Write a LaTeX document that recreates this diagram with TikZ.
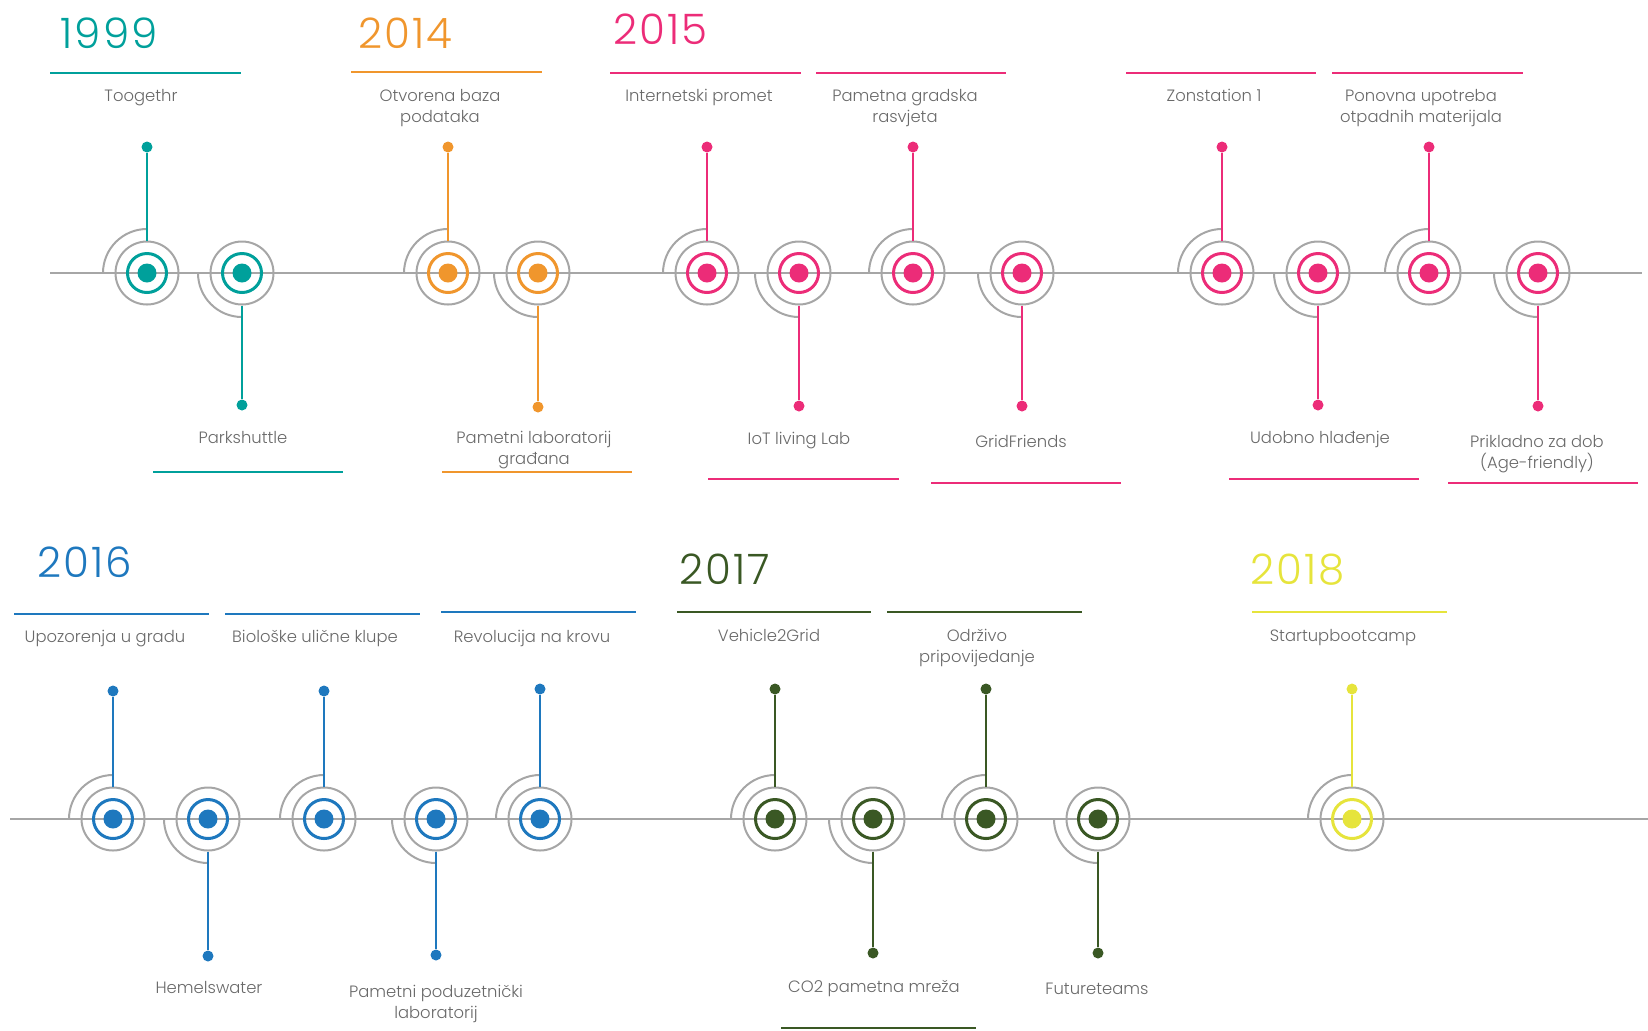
\documentclass[tikz,border=0pt]{standalone}
\usepackage{fontspec}
\setmainfont{Poppins Light}
\newfontfamily\yearfont[LetterSpace=5]{Poppins Light}
\definecolor{cteal}{RGB}{0,160,155}
\definecolor{corange}{RGB}{240,150,45}
\definecolor{cpink}{RGB}{236,44,120}
\definecolor{cblue}{RGB}{30,120,190}
\definecolor{cgreen}{RGB}{58,88,36}
\definecolor{cyellow}{RGB}{230,228,60}
\definecolor{lgrey}{RGB}{166,166,166}
\definecolor{txtgrey}{RGB}{105,105,105}
\newcommand\evup[5]{%
  \draw[greyline] (#2,#3) ++(-22pt,0pt) arc[start angle=180,end angle=90,radius=22pt];
  \node[grc] (#1) at (#2,#3) {};
  \node[tipdot=#4] (#1t) at (#2,#5) {};
  \draw[stem=#4] (#1t) -- (#1.north);
  \node[ring=#4] (#1r) at (#2,#3) {};
  \node[core=#4] (#1k) at (#2,#3) {};
}
\newcommand\evdown[5]{%
  \draw[greyline] (#2,#3) ++(-22pt,0pt) arc[start angle=180,end angle=270,radius=22pt];
  \node[grc] (#1) at (#2,#3) {};
  \node[tipdot=#4] (#1t) at (#2,#5) {};
  \draw[stem=#4] (#1.south) -- (#1t);
  \node[ring=#4] (#1r) at (#2,#3) {};
  \node[core=#4] (#1k) at (#2,#3) {};
}
\begin{document}
\begin{tikzpicture}[x=0.5pt,y=-0.5pt,
  greyline/.style={draw=lgrey, line width=1pt},
  grc/.style={circle, draw=lgrey, line width=1pt, minimum size=31.5pt, inner sep=0pt},
  ring/.style={circle, draw=#1, line width=1.5pt, minimum size=19.5pt, inner sep=0pt},
  core/.style={circle, fill=#1, minimum size=9.5pt, inner sep=0pt},
  tipdot/.style={circle, fill=#1, minimum size=5.5pt, inner sep=0pt},
  stem/.style={draw=#1, line width=1pt},
  hdr/.style={draw=#1, line width=1.25pt},
  lbl/.style={text=txtgrey, font=\fontsize{8.2pt}{10.5pt}\selectfont, align=center, anchor=base, inner sep=0pt},
  yr/.style={text=#1, font=\yearfont\fontsize{21pt}{24pt}\selectfont, anchor=base west, inner sep=0pt}]
\useasboundingbox (0,0) rectangle (1648,1030);

% timelines
\coordinate (L1s) at (50,273);
\coordinate (L1e) at (1642,273);
\coordinate (L2s) at (10,819);
\coordinate (L2e) at (1648,819);
\draw[greyline] (L1s) -- (L1e);
\draw[greyline] (L2s) -- (L2e);

% ---------- row 1 ----------
\node[yr=cteal] (y1999) at (60,48) {1999};
\node[yr=corange] (y2014) at (358,48) {2014};
\node[yr=cpink] (y2015) at (613,44) {2015};

\draw[hdr=cteal] (50,73) -- (241,73);
\node[lbl] (l1) at (141,101) {Toogethr};
\draw[hdr=corange] (351,72) -- (542,72);
\node[lbl] (l3) at (440,122) {Otvorena baza\\podataka};
\draw[hdr=cpink] (610,73) -- (801,73);
\node[lbl] (l5) at (699,101) {Internetski promet};
\draw[hdr=cpink] (816,73) -- (1006,73);
\node[lbl] (l7) at (905,122) {Pametna gradska\\rasvjeta};
\draw[hdr=cpink] (1126,73) -- (1316,73);
\node[lbl] (l9) at (1214,101) {Zonstation 1};
\draw[hdr=cpink] (1332,73) -- (1523,73);
\node[lbl] (l11) at (1421,122) {Ponovna upotreba\\otpadnih materijala};

\node[lbl] (l2) at (243,443) {Parkshuttle};
\draw[hdr=cteal] (153,472) -- (343,472);
\node[lbl] (l4) at (534,464) {Pametni laboratorij\\građana};
\draw[hdr=corange] (442,472) -- (632,472);
\node[lbl] (l6) at (799,444) {IoT living Lab};
\draw[hdr=cpink] (708,479) -- (899,479);
\node[lbl] (l8) at (1021,447) {GridFriends};
\draw[hdr=cpink] (931,483) -- (1121,483);
\node[lbl] (l10) at (1320,443) {Udobno hlađenje};
\draw[hdr=cpink] (1229,479) -- (1419,479);
\node[lbl] (l12) at (1537,468) {Prikladno za dob\\(Age-friendly)};
\draw[hdr=cpink] (1448,483) -- (1638,483);

\evup{T1}{147}{273}{cteal}{147}
\evdown{T2}{242}{273}{cteal}{405}
\evup{O1}{448}{273}{corange}{147}
\evdown{O2}{538}{273}{corange}{407}
\evup{P1}{707}{273}{cpink}{147}
\evdown{P2}{799}{273}{cpink}{406}
\evup{P3}{913}{273}{cpink}{147}
\evdown{P4}{1022}{273}{cpink}{406}
\evup{P5}{1222}{273}{cpink}{147}
\evdown{P6}{1318}{273}{cpink}{405}
\evup{P7}{1429}{273}{cpink}{147}
\evdown{P8}{1538}{273}{cpink}{406}

% ---------- row 2 ----------
\node[yr=cblue] (y2016) at (37,577) {2016};
\node[yr=cgreen] (y2017) at (679,584) {2017};
\node[yr=cyellow] (y2018) at (1250,584) {2018};

\draw[hdr=cblue] (14,614) -- (209,614);
\node[lbl] (m1) at (105,642) {Upozorenja u gradu};
\draw[hdr=cblue] (225,614) -- (420,614);
\node[lbl] (m3) at (315,642) {Biološke ulične klupe};
\draw[hdr=cblue] (441,612) -- (636,612);
\node[lbl] (m5) at (532,642) {Revolucija na krovu};
\draw[hdr=cgreen] (677,612) -- (871,612);
\node[lbl] (m6) at (769,641) {Vehicle2Grid};
\draw[hdr=cgreen] (887,612) -- (1082,612);
\node[lbl] (m8) at (977,662) {Održivo\\pripovijedanje};
\draw[hdr=cyellow] (1252,612) -- (1447,612);
\node[lbl] (m10) at (1343,641) {Startupbootcamp};

\node[lbl] (m2) at (209,993) {Hemelswater};
\node[lbl] (m4) at (436,1018) {Pametni poduzetnički\\laboratorij};
\node[lbl] (m7) at (874,992) {CO2 pametna mreža};
\draw[hdr=cgreen] (781,1028) -- (976,1028);
\node[lbl] (m9) at (1097,994) {Futureteams};

\evup{B1}{113}{819}{cblue}{691}
\evdown{B2}{208}{819}{cblue}{956}
\evup{B3}{324}{819}{cblue}{691}
\evdown{B4}{436}{819}{cblue}{955}
\evup{B5}{540}{819}{cblue}{689}
\evup{G1}{775}{819}{cgreen}{689}
\evdown{G2}{873}{819}{cgreen}{953}
\evup{G3}{986}{819}{cgreen}{689}
\evdown{G4}{1098}{819}{cgreen}{953}
\evup{Y1}{1352}{819}{cyellow}{689}
\end{tikzpicture}
\end{document}
